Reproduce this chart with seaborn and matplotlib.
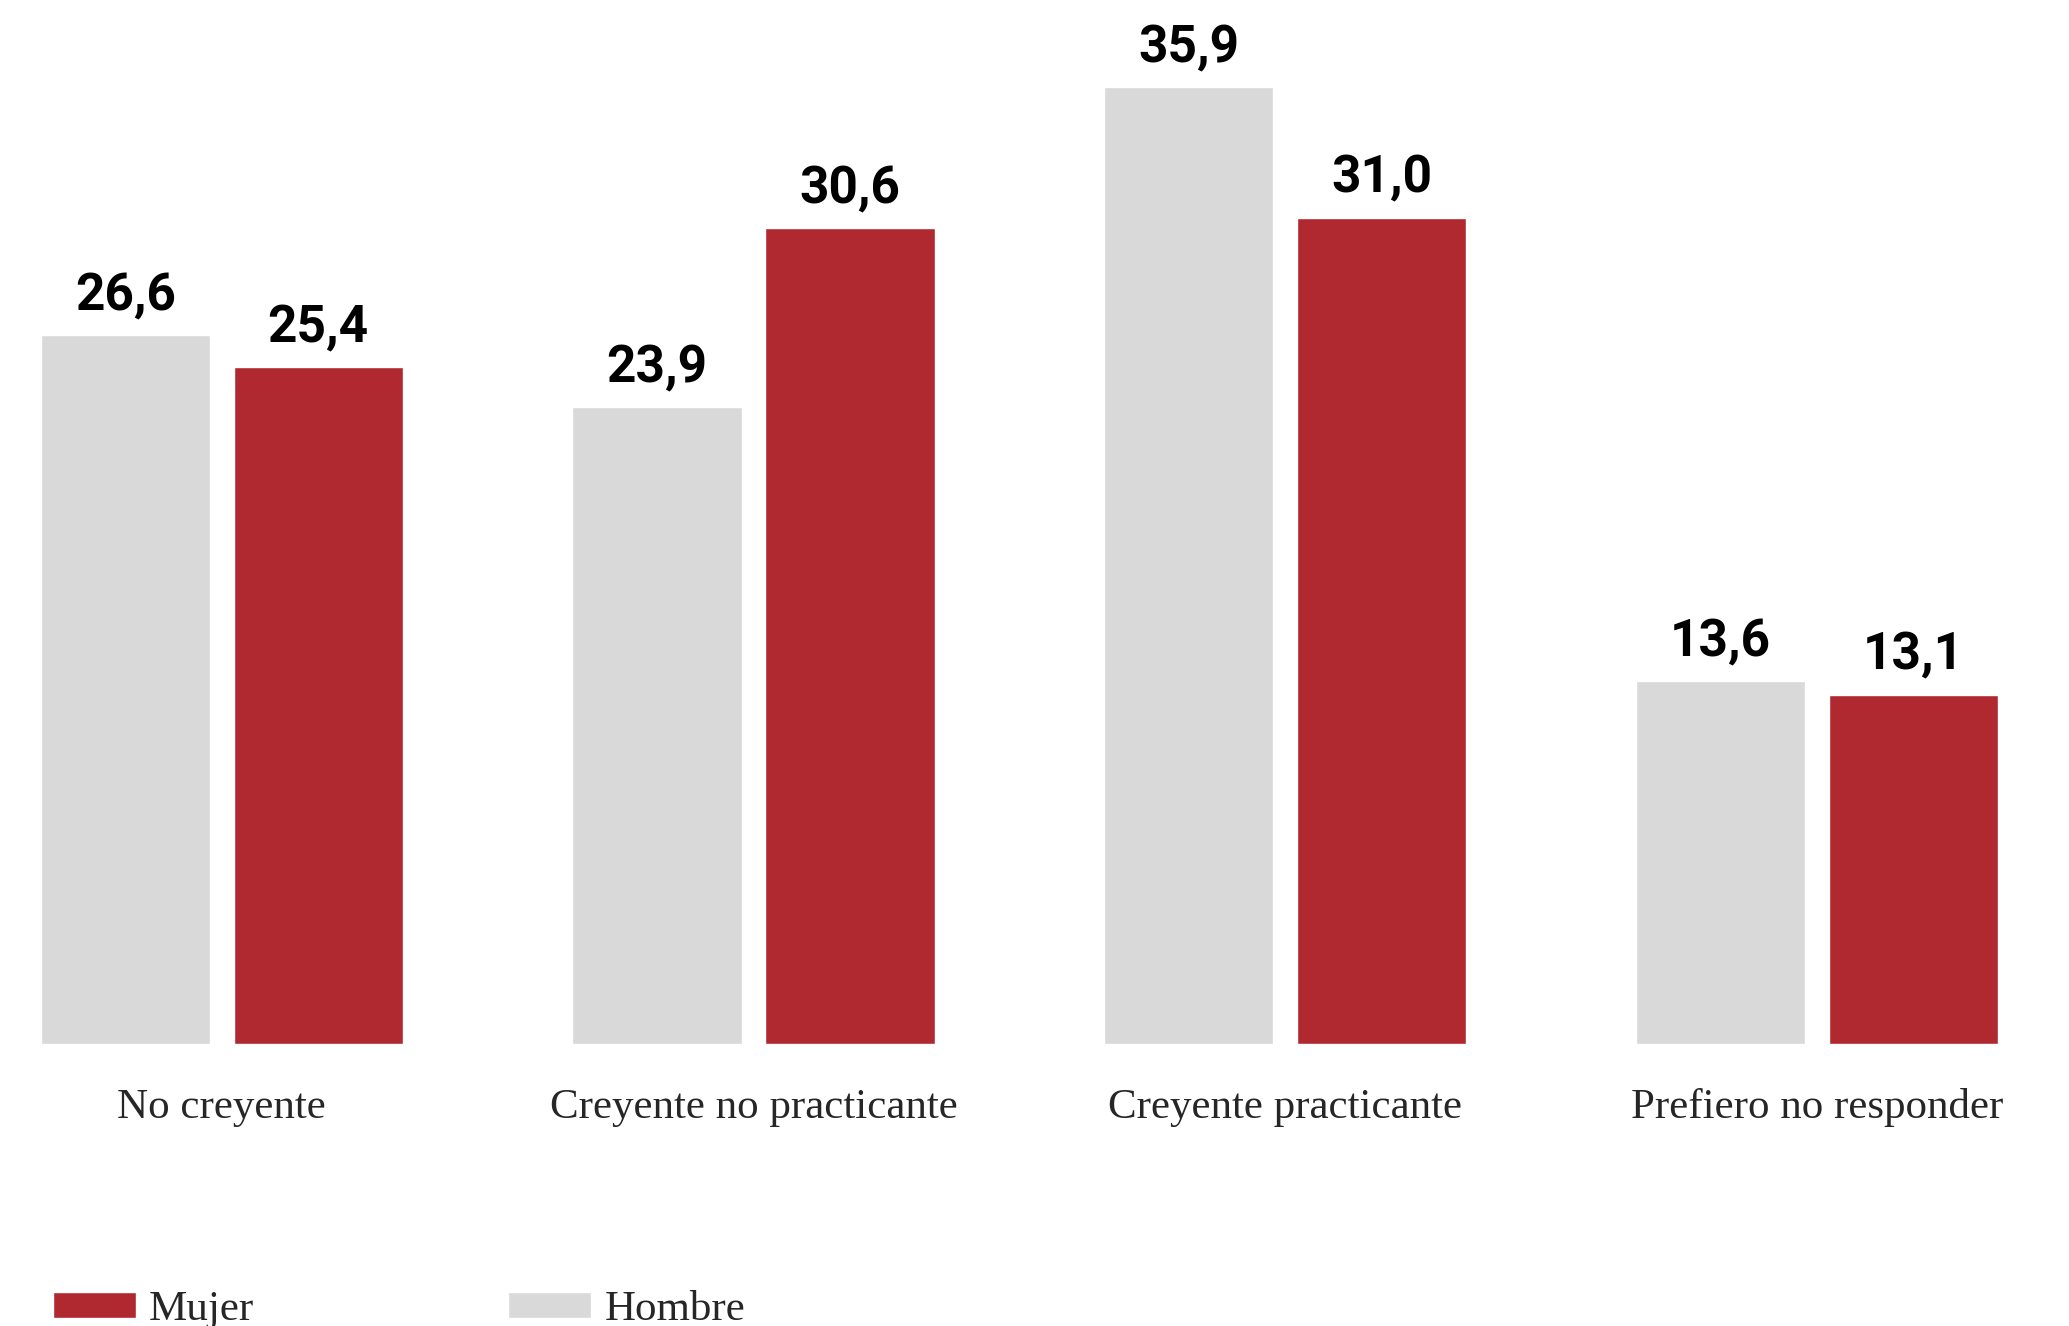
import numpy as np
import pandas as pd
import matplotlib
matplotlib.use('Agg')
import matplotlib.pyplot as plt
import seaborn as sns

categorias = ['No creyente', 'Creyente no practicante', 'Creyente practicante', 'Prefiero no responder']
hombre = [26.6, 23.9, 35.9, 13.6]
mujer = [25.4, 30.6, 31.0, 13.1]

palette = {'Hombre': '#D9D9D9', 'Mujer': '#B02830'}

df = pd.DataFrame({
    'cat': categorias * 2,
    'sexo': ['Hombre'] * 4 + ['Mujer'] * 4,
    'valor': hombre + mujer,
})

sns.set_style('white')
plt.rcParams['font.family'] = ['Liberation Serif', 'DejaVu Serif']

fig = plt.figure(figsize=(20.69, 13.26), dpi=100)
ax = fig.add_axes([0, 0.2127, 1, 0.7873])

sns.barplot(data=df, x='cat', y='valor', hue='sexo', order=categorias,
            hue_order=['Hombre', 'Mujer'], palette=palette, width=0.726, gap=0.124,
            saturation=1, errorbar=None, ax=ax, legend=True)

for cont in ax.containers:
    labs = [f'{v:.1f}'.replace('.', ',') for v in cont.datavalues]
    ax.bar_label(cont, labels=labs, padding=10, fontsize=37, fontweight='bold',
                 family='Roboto', color='black')

ax.set_xlim(-0.417, 3.474)
ax.set_ylim(0, 39.17)
ax.set_xlabel('')
ax.set_ylabel('')
ax.set_yticks([])
ax.tick_params(axis='x', length=0, pad=32, labelsize=31)
sns.despine(ax=ax, left=True, bottom=True)

# legend: Mujer first, then Hombre
handles, labels = ax.get_legend_handles_labels()
ax.get_legend().remove()
order = [labels.index('Mujer'), labels.index('Hombre')]
fig.legend([handles[i] for i in order], [labels[i] for i in order],
           loc='center left', bbox_to_anchor=(53 / 2069, 16 / 1326), ncol=2,
           frameon=False, fontsize=31, handlelength=1.93, handleheight=0.56,
           handletextpad=0.3, columnspacing=5.9, borderpad=0, borderaxespad=0)

fig.savefig('out.png', dpi=100)
